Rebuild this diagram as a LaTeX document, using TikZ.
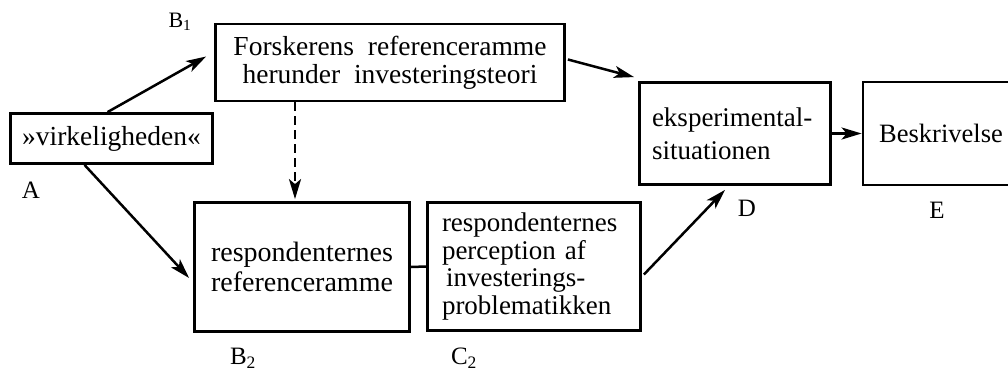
\documentclass[tikz,border=0pt]{standalone}
\usepackage{fontspec}
\setmainfont{Liberation Serif}
\usetikzlibrary{arrows.meta,calc}
\begin{document}
\begin{tikzpicture}[x=1pt,y=-1pt,
  box/.style={draw, line width=2.8pt, inner sep=0pt, fill=white},
  txt/.style={font=\fontsize{27.5}{29}\selectfont},
  arr/.style={line width=2.5pt, -{Stealth[length=20pt,width=12pt,inset=5pt]}},
  lab/.style={font=\fontsize{25}{25}\selectfont, inner sep=0pt}]
\useasboundingbox (0,0) rectangle (1008,372);
% boxes
\node[box, txt, minimum width=202pt, minimum height=50pt] (A) at (111.5,138.5) {»virkeligheden«};
\node[box, txt, font=\fontsize{27.5}{28}\selectfont, align=center, minimum width=349pt, minimum height=77pt] (B1) at (390,62.5) {Forskerens\ \ referenceramme\\herunder\ \ investeringsteori};
\node[box, txt, font=\fontsize{28}{30}\selectfont, align=center, minimum width=215pt, minimum height=129pt] (B2) at (302,267) {respondenternes\\referenceramme};
\node[box, txt, font=\fontsize{27}{27.5}\selectfont, align=left, text width=184pt, minimum width=213pt, minimum height=128pt] (C2) at (534,266.5) {respondenternes\\perception af\\\hspace*{4pt}investerings-\\problematikken};
\node[box, txt, font=\fontsize{27}{33}\selectfont, align=left, text width=166pt, minimum width=191pt, minimum height=102pt] (D) at (735,133.5) {eksperimental-\\situationen};
\node[box, txt, font=\fontsize{26.5}{28}\selectfont, minimum width=160pt, minimum height=103pt] (E) at (943,133.5) {\hspace*{-4pt}Beskrivelse};
% labels
\node[lab] (lA) at (31,190) {A};
\node[lab, font=\fontsize{22}{22}\selectfont] (lB1) at (180,22) {B\textsubscript{1}};
\node[lab] (lB2) at (243,358) {B\textsubscript{2}};
\node[lab] (lC2) at (464,358) {C\textsubscript{2}};
\node[lab] (lD) at (747,208) {D};
\node[lab] (lE) at (937,210) {E};
% connectors
\draw[arr] ($(A.north)+(-4,0)$) -- ($(B1.west)+(-8,-6)$);
\draw[arr] ($(A.south)+(-27,0)$) -- ($(B2.west)+(-4,11)$);
\draw[arr, dashed, dash pattern=on 9pt off 5pt] ($(B1.south)+(-95,0)$) -- ($(B2.north)+(-7,-2)$);
\draw[line width=2.5pt] (B2.east) -- (C2.west);
\draw[arr] ($(B1.east)+(2,-3)$) -- ($(D.north west)+(-4,-4)$);
\draw[arr] ($(C2.east)+(2,8)$) -- ($(D.south)+(-10,4)$);
\draw[arr] (D.east) -- (E.west);
\end{tikzpicture}
\end{document}
